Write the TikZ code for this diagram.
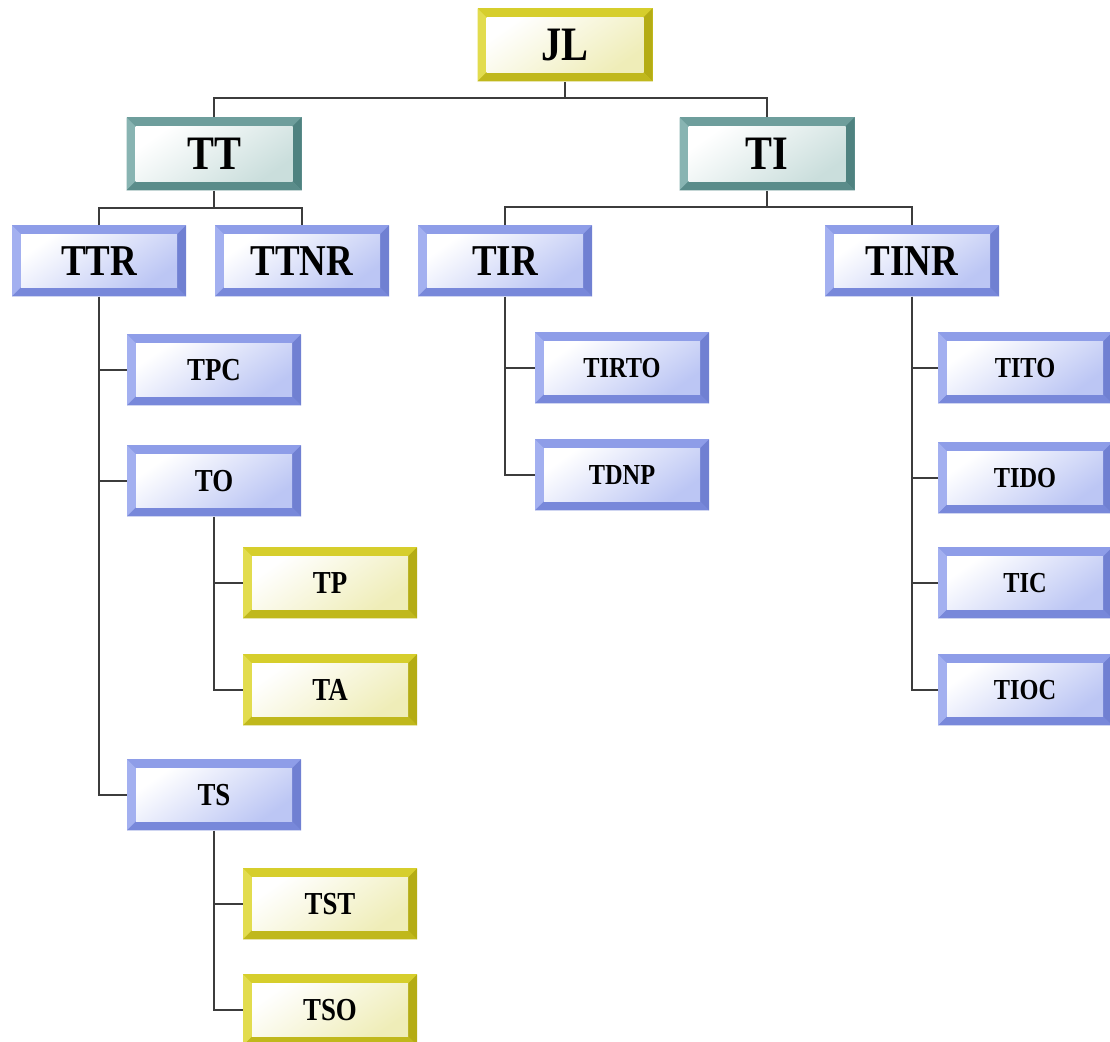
\documentclass[tikz,border=0pt]{standalone}
\usepackage{fontspec}
\newfontfamily\lab{Liberation Serif}[FakeStretch=0.84]
\usetikzlibrary{calc}
\definecolor{bluM}{HTML}{8E9DE8}
\definecolor{bluL}{HTML}{A3B0F0}
\definecolor{bluD}{HTML}{7080D2}
\definecolor{bluB}{HTML}{7888DA}
\definecolor{bluT}{HTML}{BCC6F4}
\definecolor{tealM}{HTML}{6E9E9C}
\definecolor{tealL}{HTML}{88B4B2}
\definecolor{tealD}{HTML}{4F8280}
\definecolor{tealB}{HTML}{5A8C8A}
\definecolor{tealT}{HTML}{CADEDC}
\definecolor{yelM}{HTML}{D6CE2C}
\definecolor{yelL}{HTML}{E2DC4E}
\definecolor{yelD}{HTML}{B4AC14}
\definecolor{yelB}{HTML}{C0B81C}
\definecolor{yelT}{HTML}{EFEDB8}
\definecolor{linec}{HTML}{3C3C3C}
\tikzset{
  bx/.style={rectangle, inner sep=0pt, minimum width=87pt, minimum height=35.5pt,
    fill=#1M, text=black,
    path picture={
      \coordinate (SW) at (path picture bounding box.south west);
      \coordinate (NE) at (path picture bounding box.north east);
      \coordinate (NW) at (SW|-NE);
      \coordinate (SE) at (NE|-SW);
      \coordinate (iSW) at ([shift={(4.5pt,4.5pt)}]SW);
      \coordinate (iNE) at ([shift={(-4.5pt,-4.5pt)}]NE);
      \coordinate (iNW) at (iSW|-iNE);
      \coordinate (iSE) at (iNE|-iSW);
      \fill[#1L] (SW)--(NW)--(iNW)--(iSW)--cycle;
      \fill[#1D] (SE)--(NE)--(iNE)--(iSE)--cycle;
      \fill[#1B] (SW)--(SE)--(iSE)--(iSW)--cycle;
      \shade[top color=white, bottom color=#1T, shading angle=35] (iSW) rectangle (iNE);
    }},
  fA/.style={font=\lab\bfseries\fontsize{24}{26}\selectfont, minimum height=36.5pt, minimum width=87.5pt},
  fB/.style={font=\lab\bfseries\fontsize{22}{24}\selectfont},
  fC/.style={font=\lab\bfseries\fontsize{16}{18}\selectfont},
  fD/.style={font=\lab\bfseries\fontsize{14.5}{16}\selectfont},
  conn/.style={draw=linec, line width=1.1pt},
}
\begin{document}
\begin{tikzpicture}[x=0.5pt,y=-0.5pt]
\useasboundingbox[fill=white] (0,0) rectangle (1110,1042);
% nodes
\node[bx=yel, fA] (jl) at (565,45) {JL};
\node[bx=teal, fA] (tt) at (214,154) {TT};
\node[bx=teal, fA] (ti) at (767,154) {TI};
\node[bx=blu, fB] (ttr) at (99,261) {TTR};
\node[bx=blu, fB] (ttnr) at (302,261) {TTNR};
\node[bx=blu, fB] (tir) at (505,261) {TIR};
\node[bx=blu, fB] (tinr) at (912,261) {TINR};
\node[bx=blu, fC] (tpc) at (214,370) {TPC};
\node[bx=blu, fC] (to) at (214,481) {TO};
\node[bx=blu, fC] (ts) at (214,795) {TS};
\node[bx=yel, fC] (tp) at (330,583) {TP};
\node[bx=yel, fC] (ta) at (330,690) {TA};
\node[bx=yel, fC] (tst) at (330,904) {TST};
\node[bx=yel, fC] (tso) at (330,1010) {TSO};
\node[bx=blu, fD] (tirto) at (622,368) {TIRTO};
\node[bx=blu, fD] (tdnp) at (622,475) {TDNP};
\node[bx=blu, fD] (tito) at (1025,368) {TITO};
\node[bx=blu, fD] (tido) at (1025,478) {TIDO};
\node[bx=blu, fD] (tic) at (1025,583) {TIC};
\node[bx=blu, fD] (tioc) at (1025,690) {TIOC};
% branch points
\coordinate (b1) at (565,98);
\coordinate (b2) at (214,208);
\coordinate (b3) at (767,207);
% connectors
\draw[conn] (jl.south) -- (b1);
\draw[conn] (tt.north) |- (b1) -| (ti.north);
\draw[conn] (tt.south) -- (b2);
\draw[conn] (ttr.north) |- (b2) -| (ttnr.north);
\draw[conn] (ti.south) -- (b3);
\draw[conn] (tir.north) |- (b3) -| (tinr.north);
\draw[conn] (ttr.south) |- (tpc.west);
\draw[conn] (ttr.south) |- (to.west);
\draw[conn] (ttr.south) |- (ts.west);
\draw[conn] (to.south) |- (tp.west);
\draw[conn] (to.south) |- (ta.west);
\draw[conn] (ts.south) |- (tst.west);
\draw[conn] (ts.south) |- (tso.west);
\draw[conn] (tir.south) |- (tirto.west);
\draw[conn] (tir.south) |- (tdnp.west);
\draw[conn] (tinr.south) |- (tito.west);
\draw[conn] (tinr.south) |- (tido.west);
\draw[conn] (tinr.south) |- (tic.west);
\draw[conn] (tinr.south) |- (tioc.west);
\end{tikzpicture}
\end{document}
